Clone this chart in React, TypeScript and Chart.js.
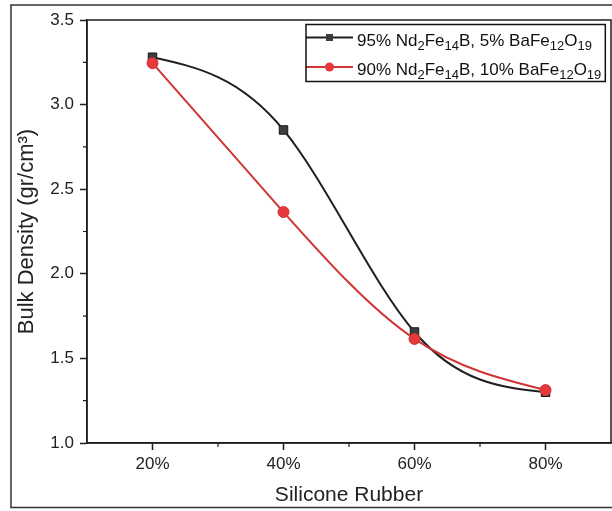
import React, { useEffect, useRef } from 'react';
import { Chart, registerables } from 'chart.js';

Chart.register(...registerables);

// ---- data ----
const categories = ['20%', '40%', '60%', '80%'];
const series95 = [3.28, 2.85, 1.656, 1.30];
const series90 = [3.245, 2.365, 1.615, 1.313];
const label95 = '95% Nd_{2}Fe_{14}B, 5% BaFe_{12}O_{19}';
const label90 = '90% Nd_{2}Fe_{14}B, 10% BaFe_{12}O_{19}';
const xTitle = 'Silicone Rubber';
const yTitle = 'Bulk Density (gr/cm³)';
const yMin = 1.0;
const yMax = 3.5;
const yStep = 0.5;

const FONT = "'Liberation Sans', Arial, Helvetica, sans-serif";
const AXIS = '#1e1e1e';
const BLACK_LINE = '#1f1f1f';
const BLACK_PT = '#3c3c3c';
const RED_LINE = '#cf3535';
const RED_PT = '#e5393b';

type Seg = { t: string; sub: boolean };
function parseRich(s: string): Seg[] {
  const out: Seg[] = [];
  const re = /_\{([^}]*)\}/g;
  let last = 0;
  let m: RegExpExecArray | null;
  while ((m = re.exec(s))) {
    if (m.index > last) out.push({ t: s.slice(last, m.index), sub: false });
    out.push({ t: m[1], sub: true });
    last = m.index + m[0].length;
  }
  if (last < s.length) out.push({ t: s.slice(last), sub: false });
  return out;
}

function drawRich(ctx: CanvasRenderingContext2D, s: string, x: number, y: number, size: number) {
  const subSize = Math.round(size * 0.74);
  let cx = x;
  ctx.textBaseline = 'alphabetic';
  ctx.textAlign = 'left';
  for (const seg of parseRich(s)) {
    ctx.font = `${seg.sub ? subSize : size}px ${FONT}`;
    ctx.fillText(seg.t, cx, seg.sub ? y + size * 0.25 : y);
    cx += ctx.measureText(seg.t).width;
  }
  return cx - x;
}

// natural cubic spline slopes (second derivative zero at both ends)
function naturalSlopes(xs: number[], ys: number[]): number[] {
  const n = xs.length;
  if (n < 3) {
    const s = (ys[n - 1] - ys[0]) / (xs[n - 1] - xs[0] || 1);
    return xs.map(() => s);
  }
  const h: number[] = [];
  for (let i = 0; i < n - 1; i++) h.push(xs[i + 1] - xs[i]);
  const a: number[] = new Array(n).fill(0);
  const b: number[] = new Array(n).fill(1);
  const c: number[] = new Array(n).fill(0);
  const d: number[] = new Array(n).fill(0);
  for (let i = 1; i < n - 1; i++) {
    a[i] = h[i - 1];
    b[i] = 2 * (h[i - 1] + h[i]);
    c[i] = h[i];
    d[i] = 6 * ((ys[i + 1] - ys[i]) / h[i] - (ys[i] - ys[i - 1]) / h[i - 1]);
  }
  const cp = new Array(n).fill(0);
  const dp = new Array(n).fill(0);
  cp[0] = c[0] / b[0];
  dp[0] = d[0] / b[0];
  for (let i = 1; i < n; i++) {
    const den = b[i] - a[i] * cp[i - 1];
    cp[i] = c[i] / den;
    dp[i] = (d[i] - a[i] * dp[i - 1]) / den;
  }
  const M = new Array(n).fill(0);
  M[n - 1] = dp[n - 1];
  for (let i = n - 2; i >= 0; i--) M[i] = dp[i] - cp[i] * M[i + 1];
  const m: number[] = [];
  for (let i = 0; i < n - 1; i++) {
    m.push((ys[i + 1] - ys[i]) / h[i] - (h[i] * (2 * M[i] + M[i + 1])) / 6);
  }
  m.push((ys[n - 1] - ys[n - 2]) / h[n - 2] + (h[n - 2] * (M[n - 2] + 2 * M[n - 1])) / 6);
  return m;
}

const splinePlugin = {
  id: 'naturalSpline',
  beforeDatasetDraw(chart: any, args: any) {
    const meta = args.meta;
    const line = meta.dataset;
    const pts = meta.data;
    if (!line || !pts || pts.length < 2) return;
    const xs = pts.map((p: any) => p.x);
    const ys = pts.map((p: any) => p.y);
    const m = naturalSlopes(xs, ys);
    for (let i = 0; i < pts.length; i++) {
      const p = pts[i];
      const dxPrev = i > 0 ? (xs[i] - xs[i - 1]) / 3 : 0;
      const dxNext = i < pts.length - 1 ? (xs[i + 1] - xs[i]) / 3 : 0;
      p.cp1x = xs[i] - dxPrev;
      p.cp1y = ys[i] - m[i] * dxPrev;
      p.cp2x = xs[i] + dxNext;
      p.cp2y = ys[i] + m[i] * dxNext;
    }
    line._pointsUpdated = true;
    line._path = undefined;
  },
};

const framePlugin = {
  id: 'frames',
  beforeDraw(chart: any) {
    const { ctx, width, height } = chart;
    ctx.save();
    ctx.fillStyle = '#ffffff';
    ctx.fillRect(0, 0, width, height);
    ctx.strokeStyle = '#333';
    ctx.lineWidth = 1.5;
    ctx.strokeRect(11, 5, width + 20, height - 8.5);
    ctx.restore();
  },
  afterDraw(chart: any) {
    const { ctx, chartArea: ca, scales } = chart;
    ctx.save();
    ctx.strokeStyle = AXIS;
    ctx.lineWidth = 1.5;
    ctx.strokeRect(ca.left, ca.top, ca.right - ca.left, ca.bottom - ca.top);
    // minor ticks
    ctx.lineWidth = 1.2;
    ctx.beginPath();
    for (let v = yMin + yStep / 2; v < yMax; v += yStep) {
      const py = scales.y.getPixelForValue(v);
      ctx.moveTo(ca.left - 4, py);
      ctx.lineTo(ca.left, py);
    }
    for (let i = 0; i < categories.length - 1; i++) {
      const px = (scales.x.getPixelForValue(i) + scales.x.getPixelForValue(i + 1)) / 2;
      ctx.moveTo(px, ca.bottom);
      ctx.lineTo(px, ca.bottom + 4);
    }
    ctx.stroke();

    // legend
    const size = 17;
    const bx = ca.left + 219;
    const by = ca.top + 4.5;
    const rows = [
      { label: label95, line: BLACK_LINE, pt: BLACK_PT, style: 'rect' },
      { label: label90, line: RED_LINE, pt: RED_PT, style: 'circle' },
    ];
    ctx.fillStyle = '#111';
    let maxW = 0;
    rows.forEach((r, i) => {
      const baseline = by + 21 + i * 29.5;
      const w = drawRich(ctx, r.label, bx + 51, baseline, size);
      maxW = Math.max(maxW, w);
    });
    rows.forEach((r, i) => {
      const ly = by + 13 + i * 29.5;
      ctx.strokeStyle = r.line;
      ctx.lineWidth = 2;
      ctx.beginPath();
      ctx.moveTo(bx, ly);
      ctx.lineTo(bx + 47, ly);
      ctx.stroke();
      ctx.fillStyle = r.pt;
      if (r.style === 'rect') {
        ctx.fillRect(bx + 23.5 - 3.5, ly - 3.5, 7, 7);
      } else {
        ctx.beginPath();
        ctx.arc(bx + 23.5, ly, 4.5, 0, Math.PI * 2);
        ctx.fill();
      }
    });
    ctx.strokeStyle = '#111';
    ctx.lineWidth = 1.5;
    ctx.strokeRect(bx, by, 51 + maxW + 4, 57);
    ctx.restore();
  },
};

const CANVAS_W = 618;
const CANVAS_H = 511;

export default function App() {
  const ref = useRef<HTMLCanvasElement | null>(null);
  useEffect(() => {
    if (!ref.current) return;
    const chart = new Chart(ref.current, {
      type: 'line',
      data: {
        labels: categories,
        datasets: [
          {
            label: label90,
            data: series90,
            borderColor: RED_LINE,
            backgroundColor: RED_PT,
            pointBackgroundColor: RED_PT,
            pointBorderColor: '#d23434',
            pointBorderWidth: 1,
            pointStyle: 'circle',
            pointRadius: 5.5,
            borderWidth: 2,
            tension: 0.4,
            order: 0,
          },
          {
            label: label95,
            data: series95,
            borderColor: BLACK_LINE,
            backgroundColor: BLACK_PT,
            pointBackgroundColor: BLACK_PT,
            pointBorderColor: '#1a1a1a',
            pointBorderWidth: 1,
            pointStyle: 'rect',
            pointRadius: 6,
            borderWidth: 2,
            tension: 0.4,
            order: 1,
          },
        ],
      },
      options: {
        animation: false,
        responsive: false,
        maintainAspectRatio: false,
        devicePixelRatio: 1,
        layout: { padding: { left: 0, top: 20, right: 1, bottom: 0 } },
        plugins: { legend: { display: false }, tooltip: { enabled: false } },
        scales: {
          x: {
            type: 'category',
            offset: true,
            grid: { drawOnChartArea: false, offset: false, tickLength: 7, tickColor: AXIS, tickWidth: 1.5 },
            border: { color: AXIS, width: 1.5 },
            ticks: { color: '#222', font: { family: FONT, size: 17 }, padding: 4 },
            title: { display: true, text: xTitle, color: '#222', font: { family: FONT, size: 21 }, padding: { top: 4, bottom: 3 } },
            afterFit: (s: any) => { s.height = 68; },
          },
          y: {
            min: yMin,
            max: yMax,
            grid: { drawOnChartArea: false, tickLength: 7, tickColor: AXIS, tickWidth: 1.5 },
            border: { color: AXIS, width: 1.5 },
            ticks: {
              stepSize: yStep,
              color: '#222',
              font: { family: FONT, size: 17 },
              padding: 6,
              callback: (v: any) => Number(v).toFixed(1),
            },
            title: { display: true, text: yTitle, color: '#222', font: { family: FONT, size: 22 }, padding: { top: 14, bottom: 0 } },
            afterFit: (s: any) => { s.width = 87; },
          },
        },
      },
      plugins: [framePlugin, splinePlugin],
    } as any);
    return () => chart.destroy();
  }, []);
  return (
    <div style={{ position: 'absolute', left: 0, top: 0, width: 612, height: 511, overflow: 'hidden' }}>
      <canvas ref={ref} width={CANVAS_W} height={CANVAS_H} style={{ display: 'block', width: CANVAS_W, height: CANVAS_H }} />
    </div>
  );
}
